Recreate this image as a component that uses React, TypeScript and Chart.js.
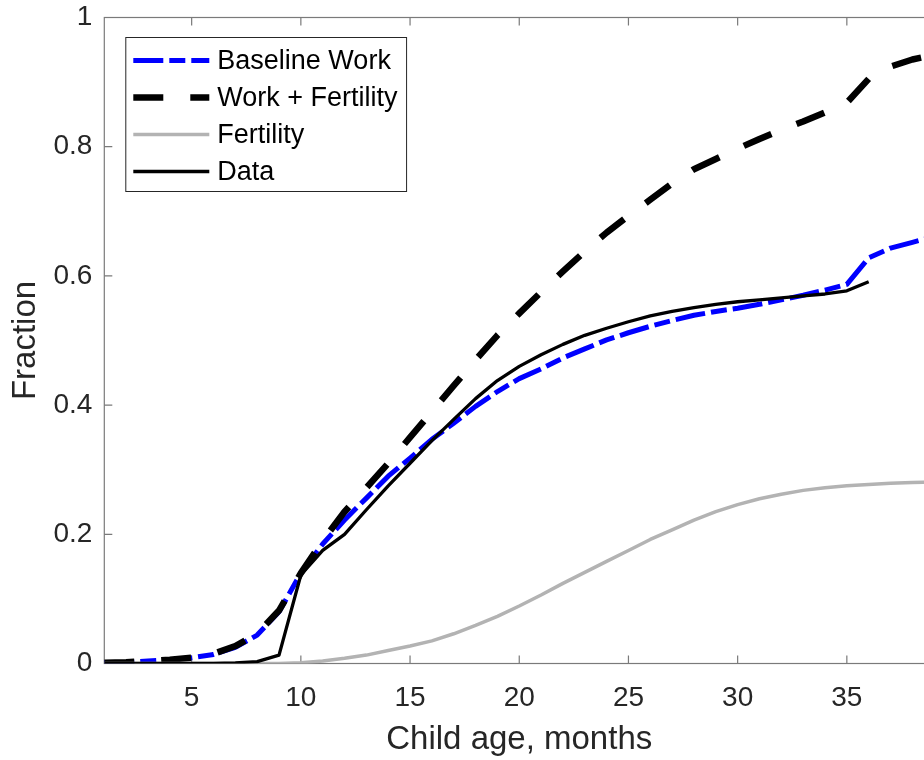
import React, { useEffect, useRef } from 'react';
import { Chart, registerables } from 'chart.js';

Chart.register(...registerables);

// Child age in months
const months = [
  1, 2, 3, 4, 5, 6, 7, 8, 9, 10, 11, 12, 13, 14, 15, 16, 17, 18, 19, 20,
  21, 22, 23, 24, 25, 26, 27, 28, 29, 30, 31, 32, 33, 34, 35, 36, 37, 38, 39,
];

// Model: baseline work
const baselineWork = [
  0.001, 0.002, 0.004, 0.006, 0.009, 0.014, 0.025, 0.044, 0.08, 0.14,
  0.185, 0.222, 0.256, 0.29, 0.318, 0.347, 0.372, 0.398, 0.421, 0.441,
  0.456, 0.473, 0.487, 0.501, 0.512, 0.522, 0.531, 0.539, 0.545, 0.55,
  0.556, 0.563, 0.57, 0.578, 0.587, 0.628, 0.643, 0.652, 0.661,
];

// Model: work + fertility
const workFertility = [
  0.001, 0.002, 0.004, 0.006, 0.009, 0.015, 0.027, 0.046, 0.082, 0.14,
  0.19, 0.235, 0.272, 0.31, 0.35, 0.39, 0.43, 0.47, 0.508, 0.542,
  0.575, 0.607, 0.638, 0.667, 0.693, 0.718, 0.743, 0.765, 0.781, 0.797,
  0.812, 0.826, 0.839, 0.853, 0.868, 0.905, 0.924, 0.935, 0.942,
];

// Model: fertility only
const fertility = [
  0, 0, 0, 0, 0, 0, 0, 0, 0, 0.001,
  0.004, 0.008, 0.013, 0.02, 0.027, 0.035, 0.046, 0.059, 0.073, 0.089,
  0.106, 0.124, 0.141, 0.158, 0.175, 0.192, 0.207, 0.222, 0.235, 0.246,
  0.255, 0.262, 0.268, 0.272, 0.275, 0.277, 0.279, 0.28, 0.281,
];

// Observed fraction (months 1-36)
const observed = [
  0, 0, 0, 0, 0, 0, 0.001, 0.003, 0.013, 0.137,
  0.175, 0.2, 0.238, 0.275, 0.31, 0.345, 0.378, 0.41, 0.438, 0.46,
  0.478, 0.494, 0.508, 0.519, 0.529, 0.538, 0.545, 0.551, 0.556, 0.56,
  0.563, 0.566, 0.569, 0.572, 0.577, 0.591,
];

const xTicks = [5, 10, 15, 20, 25, 30, 35];
const yTicks = [0, 0.2, 0.4, 0.6, 0.8, 1];

const FONT = '"Liberation Sans", Arial, Helvetica, sans-serif';
const AXIS_COLOR = '#7a7a7a';
const TEXT_COLOR = '#262626';

const toPoints = (ys: number[]) => ys.map((y, i) => ({ x: months[i], y }));

// Box around the axes with inward tick marks
const boxAxes = {
  id: 'boxAxes',
  beforeDatasetsDraw(chart: any) {
    const { ctx, chartArea: a, scales } = chart;
    const len = 8;
    ctx.save();
    ctx.strokeStyle = AXIS_COLOR;
    ctx.lineWidth = 1.2;
    ctx.strokeRect(a.left, a.top, a.right - a.left, a.bottom - a.top);
    ctx.beginPath();
    for (const v of xTicks) {
      const x = scales.x.getPixelForValue(v);
      ctx.moveTo(x, a.bottom);
      ctx.lineTo(x, a.bottom - len);
      ctx.moveTo(x, a.top);
      ctx.lineTo(x, a.top + len);
    }
    for (const v of yTicks) {
      const y = scales.y.getPixelForValue(v);
      ctx.moveTo(a.left, y);
      ctx.lineTo(a.left + len, y);
      ctx.moveTo(a.right, y);
      ctx.lineTo(a.right - len, y);
    }
    ctx.stroke();
    ctx.restore();
  },
};

// Boxed legend with line samples, upper left inside the axes
const boxLegend = {
  id: 'boxLegend',
  afterDatasetsDraw(chart: any) {
    const { ctx, chartArea: a } = chart;
    const sets = chart.data.datasets;
    ctx.save();
    ctx.font = `27px ${FONT}`;
    const textW = Math.max(...sets.map((d: any) => ctx.measureText(d.label).width));
    const x0 = a.left + 21.5;
    const y0 = a.top + 20;
    const rowH = 37;
    const sample = 76;
    const w = 7.5 + sample + 8 + textW + 9;
    const h = 23 + rowH * (sets.length - 1) + 20;
    ctx.fillStyle = '#ffffff';
    ctx.fillRect(x0, y0, w, h);
    ctx.strokeStyle = TEXT_COLOR;
    ctx.lineWidth = 1;
    ctx.strokeRect(x0, y0, w, h);
    sets.forEach((d: any, i: number) => {
      const y = y0 + 23 + i * rowH;
      ctx.beginPath();
      ctx.setLineDash(d.borderDash || []);
      ctx.strokeStyle = d.borderColor;
      ctx.lineWidth = d.borderWidth;
      ctx.lineCap = 'butt';
      ctx.moveTo(x0 + 7.5, y);
      ctx.lineTo(x0 + 7.5 + sample, y);
      ctx.stroke();
      ctx.setLineDash([]);
      ctx.fillStyle = '#000000';
      ctx.textBaseline = 'middle';
      ctx.textAlign = 'left';
      ctx.fillText(d.label, x0 + 7.5 + sample + 8, y + 1);
    });
    ctx.restore();
  },
};

export default function App() {
  const canvasRef = useRef<HTMLCanvasElement | null>(null);

  useEffect(() => {
    if (!canvasRef.current) return;
    const chart = new Chart(canvasRef.current, {
      type: 'line',
      data: {
        datasets: [
          {
            label: 'Baseline Work',
            data: toPoints(baselineWork),
            borderColor: '#0000ff',
            borderWidth: 5,
            borderDash: [30, 6, 16, 6],
            order: 3,
          },
          {
            label: 'Work + Fertility',
            data: toPoints(workFertility),
            borderColor: '#000000',
            borderWidth: 6.5,
            borderDash: [30, 27],
            order: 2,
          },
          {
            label: 'Fertility',
            data: toPoints(fertility),
            borderColor: '#b3b3b3',
            borderWidth: 3.5,
            order: 1,
          },
          {
            label: 'Data',
            data: toPoints(observed),
            borderColor: '#000000',
            borderWidth: 3.3,
            order: 0,
          },
        ],
      },
      options: {
        animation: false,
        responsive: true,
        maintainAspectRatio: false,
        layout: { padding: { left: 0, top: 17.5, right: 25.8, bottom: 0 } },
        elements: {
          point: { radius: 0, hoverRadius: 0 },
          line: { tension: 0, borderJoinStyle: 'round', borderCapStyle: 'butt', fill: false },
        },
        plugins: {
          legend: { display: false },
          tooltip: { enabled: false },
        },
        events: [],
        scales: {
          x: {
            type: 'linear',
            min: 1,
            max: 39,
            grid: { display: false, drawTicks: false },
            border: { display: false },
            afterFit: (s: any) => {
              s.height = 96.5;
              s.paddingLeft = 0;
              s.paddingRight = 0;
            },
            afterBuildTicks: (s: any) => {
              s.ticks = xTicks.map((v) => ({ value: v }));
            },
            ticks: {
              autoSkip: false,
              maxRotation: 0,
              padding: 17.5,
              color: TEXT_COLOR,
              font: { family: FONT, size: 28 },
              callback: (v: any) => String(v),
            },
            title: {
              display: true,
              text: 'Child age, months',
              color: TEXT_COLOR,
              font: { family: FONT, size: 33 },
              padding: { top: 0, bottom: 0 },
            },
          },
          y: {
            type: 'linear',
            min: 0,
            max: 1,
            grid: { display: false, drawTicks: false },
            border: { display: false },
            afterFit: (s: any) => {
              s.width = 104.3;
              s.paddingTop = 0;
              s.paddingBottom = 0;
            },
            afterBuildTicks: (s: any) => {
              s.ticks = yTicks.map((v) => ({ value: v }));
            },
            ticks: {
              autoSkip: false,
              padding: 12,
              color: TEXT_COLOR,
              font: { family: FONT, size: 28 },
              callback: (v: any) => String(v),
            },
            title: {
              display: true,
              text: 'Fraction',
              color: TEXT_COLOR,
              font: { family: FONT, size: 33 },
              padding: { top: 6, bottom: 0 },
            },
          },
        },
      },
      plugins: [boxAxes, boxLegend],
    });
    return () => chart.destroy();
  }, []);

  return (
    <div
      style={{
        position: 'absolute',
        left: 0,
        top: 0,
        width: 924,
        height: 760,
        overflow: 'hidden',
        background: '#ffffff',
      }}
    >
      <div style={{ position: 'relative', width: 960, height: 760 }}>
        <canvas ref={canvasRef} />
      </div>
    </div>
  );
}
